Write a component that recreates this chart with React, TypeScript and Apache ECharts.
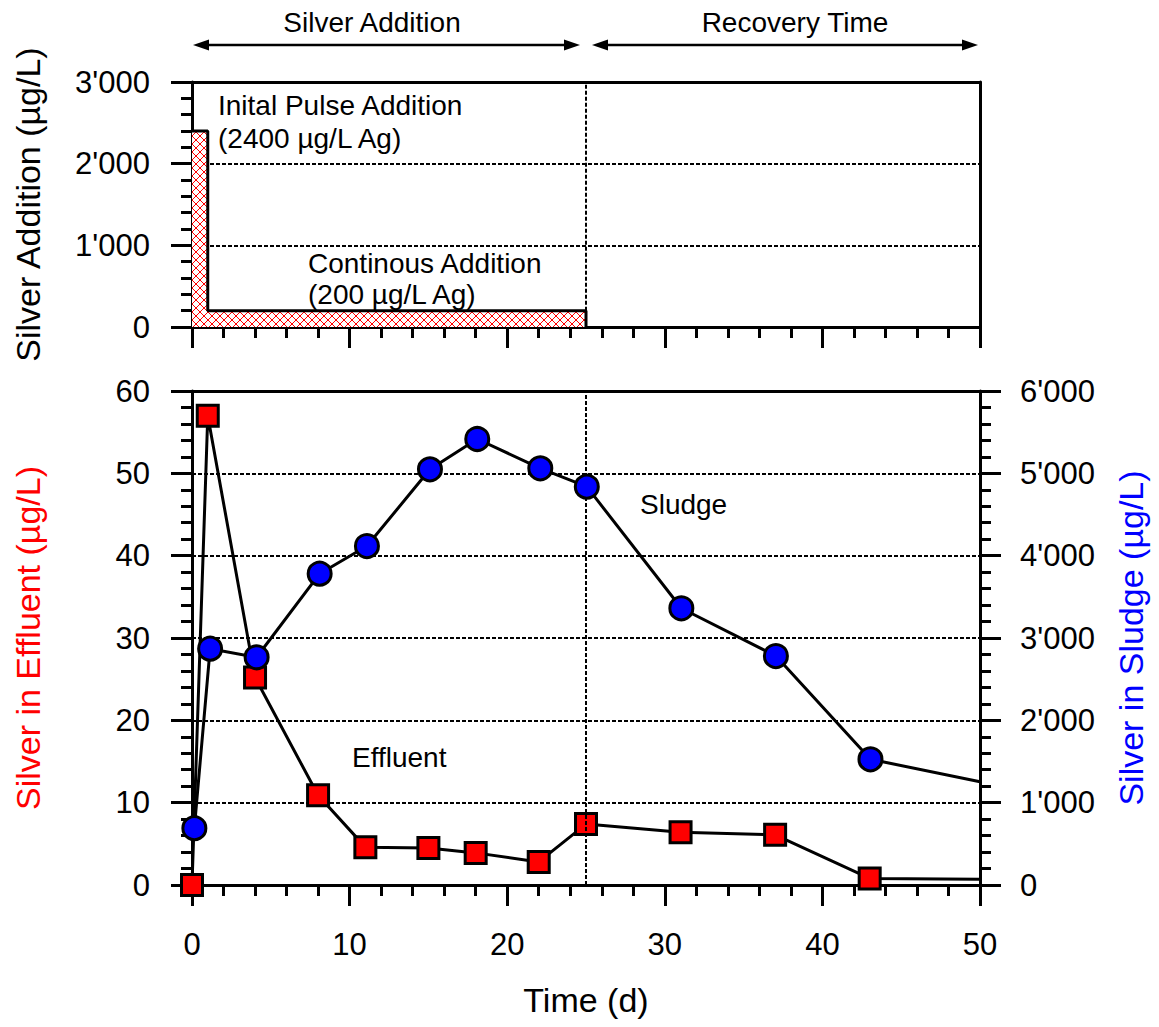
import React, { useEffect, useRef } from "react";
import * as echarts from "echarts";

// ---- data ----
const additionDays = [0, 1, 1, 25, 25];
const additionValues = [2400, 2400, 200, 200, 0];

const effluentDays = [0, 1, 4, 8, 11, 15, 18, 22, 25, 31, 37, 43, 50];
const effluentValues = [0, 57, 25.2, 10.9, 4.6, 4.5, 3.9, 2.8, 7.4, 6.4, 6.1, 0.8, 0.7];

const sludgeDays = [0.15, 1.15, 4.1, 8.1, 11.1, 15.1, 18.1, 22.1, 25.05, 31.05, 37.05, 43.05, 50];
const sludgeValues = [690, 2870, 2766, 3781, 4117, 5049, 5417, 5061, 4838, 3361, 2781, 1527, 1255];

const phaseBoundary = 25;
const headerLabels = ["Silver Addition", "Recovery Time"];

const FONT = "Liberation Sans, Arial, Helvetica, sans-serif";

const fmt = (v: number) => {
  if (v >= 1000) {
    const th = Math.floor(v / 1000);
    const rest = String(Math.round(v % 1000)).padStart(3, "0");
    return th + "'" + rest;
  }
  return String(v);
};

const hatchSvg =
  "<svg xmlns='http://www.w3.org/2000/svg' width='8' height='8'>" +
  "<rect width='8' height='8' fill='white'/>" +
  "<path d='M0 0L8 8M8 0L0 8' stroke='red' stroke-width='1' fill='none'/></svg>";
const hatchUrl = "data:image/svg+xml;charset=utf-8," + encodeURIComponent(hatchSvg);

const axisLine = { show: true, onZero: false, lineStyle: { color: "#000", width: 3 } };
const dotted = { show: true, lineStyle: { color: "#000", width: 2, type: [4, 2] as any } };

export default function App() {
  const ref = useRef<HTMLDivElement>(null);
  useEffect(() => {
    document.body.style.margin = "0";
    const chart = echarts.init(ref.current!, null, { renderer: "svg" });

    const tickLabel = { fontSize: 31, color: "#000", fontFamily: FONT };
    const nameStyle = { fontSize: 34, color: "#000", fontFamily: FONT };
    const annot = `28px ${FONT}`;

    const option: any = {
      animation: false,
      backgroundColor: "#fff",
      textStyle: { fontFamily: FONT },
      grid: [
        { left: 192, top: 82, width: 788, height: 245 },
        { left: 192, top: 391, width: 788, height: 494 },
      ],
      xAxis: [
        {
          type: "value", gridIndex: 0, min: 0, max: 50, interval: 10, position: "bottom",
          axisLine, axisTick: { show: true, length: 21, lineStyle: { width: 3, color: "#000" } },
          minorTick: { show: true, splitNumber: 5, length: 11, lineStyle: { width: 3, color: "#000" } },
          axisLabel: { show: false }, splitLine: { show: false },
        },
        {
          type: "value", gridIndex: 0, min: 0, max: 50, position: "top",
          axisLine, axisTick: { show: false }, axisLabel: { show: false }, splitLine: { show: false },
        },
        {
          type: "value", gridIndex: 1, min: 0, max: 50, interval: 10, position: "bottom",
          axisLine, axisTick: { show: true, length: 21, lineStyle: { width: 3, color: "#000" } },
          minorTick: { show: true, splitNumber: 5, length: 11, lineStyle: { width: 3, color: "#000" } },
          axisLabel: { ...tickLabel, margin: 44 }, splitLine: { show: false },
          name: "Time (d)", nameLocation: "middle", nameGap: 98, nameTextStyle: nameStyle,
        },
        {
          type: "value", gridIndex: 1, min: 0, max: 50, position: "top",
          axisLine, axisTick: { show: false }, axisLabel: { show: false }, splitLine: { show: false },
        },
      ],
      yAxis: [
        {
          type: "value", gridIndex: 0, min: 0, max: 3000, interval: 1000, position: "left",
          axisLine, axisTick: { show: true, length: 21, lineStyle: { width: 3, color: "#000" } },
          minorTick: { show: true, splitNumber: 5, length: 11, lineStyle: { width: 3, color: "#000" } },
          axisLabel: { ...tickLabel, margin: 42, formatter: fmt }, splitLine: dotted,
          name: "Silver Addition (µg/L)", nameLocation: "middle", nameGap: 147, nameRotate: 90,
          nameTextStyle: nameStyle,
        },
        {
          type: "value", gridIndex: 0, min: 0, max: 3000, position: "right",
          axisLine, axisTick: { show: false }, axisLabel: { show: false }, splitLine: { show: false },
        },
        {
          type: "value", gridIndex: 1, min: 0, max: 60, interval: 10, position: "left",
          axisLine, axisTick: { show: true, length: 21, lineStyle: { width: 3, color: "#000" } },
          minorTick: { show: true, splitNumber: 5, length: 11, lineStyle: { width: 3, color: "#000" } },
          axisLabel: { ...tickLabel, margin: 42 }, splitLine: dotted,
          name: "Silver in Effluent (µg/L)", nameLocation: "middle", nameGap: 147, nameRotate: 90,
          nameTextStyle: { ...nameStyle, color: "#ff0000" },
        },
        {
          type: "value", gridIndex: 1, min: 0, max: 6000, interval: 1000, position: "right",
          axisLine, axisTick: { show: true, length: 21, lineStyle: { width: 3, color: "#000" } },
          minorTick: { show: true, splitNumber: 5, length: 11, lineStyle: { width: 3, color: "#000" } },
          axisLabel: { ...tickLabel, margin: 40, formatter: fmt }, splitLine: { show: false },
          name: "Silver in Sludge (µg/L)", nameLocation: "middle", nameGap: 134, nameRotate: 90,
          nameTextStyle: { ...nameStyle, color: "#0000ff" },
        },
      ],
      series: [
        {
          type: "line", xAxisIndex: 0, yAxisIndex: 0, symbol: "none", z: 3,
          data: additionDays.map((d, i) => [d, additionValues[i]]),
          lineStyle: { color: "#000", width: 3 },
          areaStyle: {
            origin: "start", opacity: 1,
            color: { image: hatchUrl, repeat: "repeat", imageWidth: 8, imageHeight: 8 },
          },
          markLine: {
            silent: true, symbol: "none", label: { show: false },
            lineStyle: { color: "#000", width: 2, type: [4, 2] },
            data: [[{ coord: [phaseBoundary, 200] }, { coord: [phaseBoundary, 3000] }]],
          },
        },
        {
          type: "line", xAxisIndex: 2, yAxisIndex: 2, z: 4,
          data: effluentDays.map((d, i) =>
            i === effluentDays.length - 1
              ? { value: [d, effluentValues[i]], symbol: "none" }
              : [d, effluentValues[i]]
          ),
          symbol: "rect", symbolSize: 21,
          itemStyle: { color: "#ff0000", borderColor: "#000", borderWidth: 3 },
          lineStyle: { color: "#000", width: 3 },
          markLine: {
            silent: true, symbol: "none", label: { show: false },
            lineStyle: { color: "#000", width: 2, type: [4, 2] },
            data: [{ xAxis: phaseBoundary }],
          },
        },
        {
          type: "line", xAxisIndex: 2, yAxisIndex: 3, z: 5,
          data: sludgeDays.map((d, i) =>
            i === sludgeDays.length - 1
              ? { value: [d, sludgeValues[i]], symbol: "none" }
              : [d, sludgeValues[i]]
          ),
          symbol: "circle", symbolSize: 23,
          itemStyle: { color: "#0000ff", borderColor: "#000", borderWidth: 3 },
          lineStyle: { color: "#000", width: 3 },
        },
      ],
      graphic: [
        { type: "text", x: 372, y: 22, style: { text: headerLabels[0], font: annot, fill: "#000", textAlign: "center", textVerticalAlign: "middle" } },
        { type: "text", x: 795, y: 22, style: { text: headerLabels[1], font: annot, fill: "#000", textAlign: "center", textVerticalAlign: "middle" } },
        { type: "line", shape: { x1: 200, y1: 45, x2: 573, y2: 45 }, style: { stroke: "#000", lineWidth: 2.5 } },
        { type: "polygon", shape: { points: [[193, 45], [209, 39.5], [209, 50.5]] }, style: { fill: "#000" } },
        { type: "polygon", shape: { points: [[580, 45], [564, 39.5], [564, 50.5]] }, style: { fill: "#000" } },
        { type: "line", shape: { x1: 599, y1: 45, x2: 970, y2: 45 }, style: { stroke: "#000", lineWidth: 2.5 } },
        { type: "polygon", shape: { points: [[592, 45], [608, 39.5], [608, 50.5]] }, style: { fill: "#000" } },
        { type: "polygon", shape: { points: [[978, 45], [962, 39.5], [962, 50.5]] }, style: { fill: "#000" } },
        { type: "text", x: 218, y: 105, style: { text: "Inital Pulse Addition", font: annot, fill: "#000", textVerticalAlign: "middle" } },
        { type: "text", x: 218, y: 138, style: { text: "(2400 µg/L Ag)", font: annot, fill: "#000", textVerticalAlign: "middle" } },
        { type: "text", x: 308, y: 263, style: { text: "Continous Addition", font: annot, fill: "#000", textVerticalAlign: "middle" } },
        { type: "text", x: 308, y: 294, style: { text: "(200 µg/L Ag)", font: annot, fill: "#000", textVerticalAlign: "middle" } },
        { type: "text", x: 640, y: 504, style: { text: "Sludge", font: annot, fill: "#000", textVerticalAlign: "middle" } },
        { type: "text", x: 352, y: 757, style: { text: "Effluent", font: annot, fill: "#000", textVerticalAlign: "middle" } },
      ],
    };
    chart.setOption(option);
    return () => chart.dispose();
  }, []);
  return <div ref={ref} style={{ width: 1159, height: 1027 }} />;
}
